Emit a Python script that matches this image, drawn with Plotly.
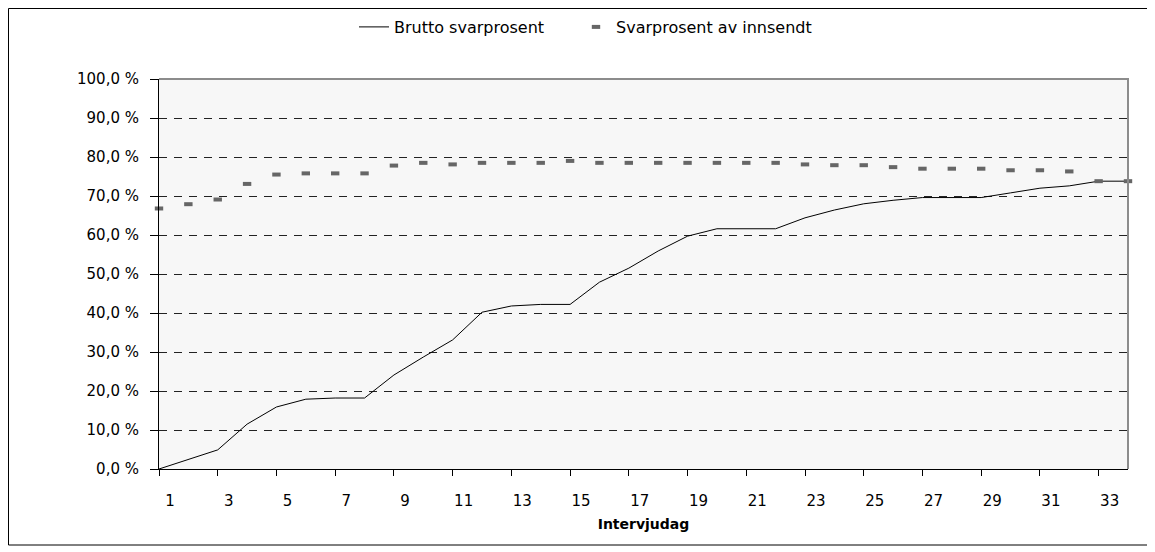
import plotly.graph_objects as go

# ---- data ----
days = list(range(1, 35))
brutto = [0.0, 2.5, 4.9, 11.5, 15.9, 17.9, 18.2, 18.2, 24.1, 28.7,
          33.1, 40.2, 41.8, 42.2, 42.2, 47.9, 51.5, 55.9, 59.7, 61.6,
          61.6, 61.6, 64.4, 66.4, 68.0, 68.9, 69.6, 69.6, 69.6, 70.8,
          72.0, 72.6, 73.8, 73.8]
innsendt = [66.8, 67.9, 69.1, 73.1, 75.5, 75.8, 75.8, 75.8, 77.8, 78.5,
            78.1, 78.5, 78.5, 78.5, 79.0, 78.5, 78.5, 78.5, 78.5, 78.5,
            78.5, 78.5, 78.1, 77.9, 77.9, 77.4, 77.0, 77.0, 77.0, 76.6,
            76.6, 76.3, 73.8, 73.8]
x_tickvals = list(range(1, 34, 2))
x_ticktext = [str(v) for v in x_tickvals]
y_tickvals = list(range(0, 101, 10))
y_ticktext = [f"{v},0 %" for v in y_tickvals]

FONT = "DejaVu Sans"

fig = go.Figure()
fig.add_trace(go.Scatter(
    x=days, y=brutto, mode="lines", name="Brutto svarprosent",
    line=dict(color="black", width=1), cliponaxis=False, legend="legend",
))
fig.add_trace(go.Scatter(
    x=days, y=innsendt, mode="markers", name="Svarprosent av innsendt",
    marker=dict(symbol="line-ew", size=6, color="#666666",
                line=dict(color="#666666", width=4)),
    cliponaxis=False, legend="legend2",
))

# page has an 8px body margin; figure coordinates below are page - 8
W, H = 1147, 544
L, R, T, B = 151, 27, 71, 83
pw, ph = W - L - R, H - T - B

def px(xp):
    return (xp - L) / pw

def py(yp):
    return (H - B - yp) / ph

def cx(xp):
    return xp / W

def cy(yp):
    return 1 - yp / H

legend_font = dict(family=FONT, size=16, color="black")

fig.update_layout(
    width=W, height=H,
    margin=dict(l=L, r=R, t=T, b=B, pad=0),
    paper_bgcolor="white",
    plot_bgcolor="#f7f7f7",
    font=dict(family=FONT, size=15, color="black"),
    showlegend=True,
    legend=dict(
        orientation="h", xref="container", yref="container",
        x=cx(346), xanchor="left", y=cy(19), yanchor="middle",
        font=legend_font, bgcolor="rgba(0,0,0,0)", itemwidth=30,
    ),
    legend2=dict(
        orientation="h", xref="container", yref="container",
        x=cx(568), xanchor="left", y=cy(19), yanchor="middle",
        font=legend_font, bgcolor="rgba(0,0,0,0)", itemwidth=30,
    ),
    xaxis=dict(
        range=[1, 34], tickmode="array", tickvals=x_tickvals, ticktext=x_ticktext,
        ticks="outside", ticklen=6, tickcolor="black", tickwidth=1,
        showline=True, linecolor="black", linewidth=1,
        showgrid=False, zeroline=False,
        ticklabelshift=11, ticklabelstandoff=12,
        tickfont=dict(family=FONT, size=15),
        title=dict(text="Intervjudag", font=dict(family=FONT, size=14, weight="bold"),
                   standoff=10),
        fixedrange=True,
    ),
    yaxis=dict(
        range=[0, 100], tickmode="array", tickvals=y_tickvals, ticktext=y_ticktext,
        ticks="outside", ticklen=8, tickcolor="black", tickwidth=1,
        showline=True, linecolor="black", linewidth=1,
        showgrid=True, gridcolor="#222222", gridwidth=1, griddash="8px,7px",
        zeroline=False, ticklabelstandoff=8,
        tickfont=dict(family=FONT, size=15),
        fixedrange=True,
    ),
    shapes=[
        dict(type="path", xref="paper", yref="paper", path="M0,1 L1,1 L1,0",
             line=dict(color="#8c8c8c", width=2), layer="above"),
        dict(type="rect", xref="paper", yref="paper",
             x0=px(0.5), x1=px(1140), y0=py(537), y1=py(0.5),
             line=dict(color="black", width=1), fillcolor="rgba(0,0,0,0)",
             layer="below"),
    ],
)

fig.write_html("out.html")
